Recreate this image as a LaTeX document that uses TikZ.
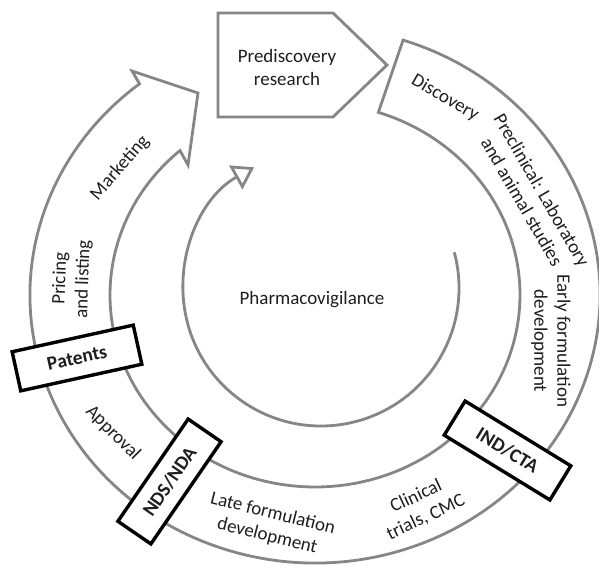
\documentclass[tikz,border=0pt]{standalone}
\usepackage{fontspec}
\setmainfont{Carlito}
\usetikzlibrary{arrows.meta}
\definecolor{linegray}{RGB}{134,134,134}
\definecolor{txt}{RGB}{30,30,30}
\begin{document}
\begin{tikzpicture}[x=1pt,y=1pt,
  band/.style={draw=linegray, line width=2.8pt, line join=miter},
  lbl/.style={text=txt, font=\fontsize{19}{23}\selectfont, align=center, inner sep=0pt},
  gate/.style={draw=black, line width=3.4pt, fill=white, minimum width=124pt, minimum height=40pt, font=\bfseries\fontsize{19.5}{22}\selectfont, inner sep=0pt, text=txt}]
\useasboundingbox (0,0) rectangle (599,567);
\coordinate (C) at (315,272);
\coordinate (C2) at (321,279);
\path (C) ++(72:285pt and 268pt) coordinate (os);
\path (C) ++(131.2:205pt and 192pt) coordinate (ie);
\coordinate (ob) at (132,496);
\coordinate (tip) at (198,474);
\coordinate (ib) at (188,402);
% main spiral band
\draw[band] (os) arc[start angle=72, end angle=-232, x radius=285pt, y radius=268pt] coordinate (oe)
  -- (ob) -- (tip) -- (ib) -- (ie)
  arc[start angle=-228.8, end angle=72, x radius=205pt, y radius=192pt] -- cycle;
% inner pharmacovigilance arrow
\path (C2) ++(15:138pt) coordinate (ps);
\draw[draw=linegray, line width=2.8pt, -{Triangle[open, length=21pt, width=27pt, line width=2.8pt]}]
  (ps) arc[start angle=15, end angle=-241, radius=138pt] coordinate (pe);
% prediscovery pentagon
\draw[band, fill=white] (218,554) coordinate (p1) -- (333,554) coordinate (p2) -- (387,502) coordinate (p3)
  -- (333,450) coordinate (p4) -- (218,450) coordinate (p5) -- cycle;
\node[lbl] (pre) at (287,500) {Prediscovery\\research};
% labels
\node[lbl] (pv) at (312,267) {Pharmacovigilance};
\node[lbl, rotate=-30] (disc) at (445,469) {Discovery};
\node[lbl, rotate=-60] (precl) at (532,371) {Preclinical: Laboratory\\and animal studies};
\node[lbl, rotate=-90] (early) at (551,226) {Early formulation\\development};
\node[lbl, rotate=25] (clin) at (421,60) {Clinical\\trials, CMC};
\node[lbl, rotate=-14] (late) at (270,42) {Late formulation\\development};
\node[lbl, rotate=-45] (appr) at (113,134) {Approval};
\node[lbl, rotate=88] (price) at (72,288) {Pricing\\and listing};
\node[lbl, rotate=49] (mkt) at (120,399) {Marketing};
% gates
\node[gate, rotate=12.4] (pat) at (77,209) {Patents};
\node[gate, rotate=55.5] (nds) at (169.5,85.5) {NDS/NDA};
\node[gate, rotate=-31.5] (ind) at (507.5,116.5) {IND/CTA};
\end{tikzpicture}
\end{document}
